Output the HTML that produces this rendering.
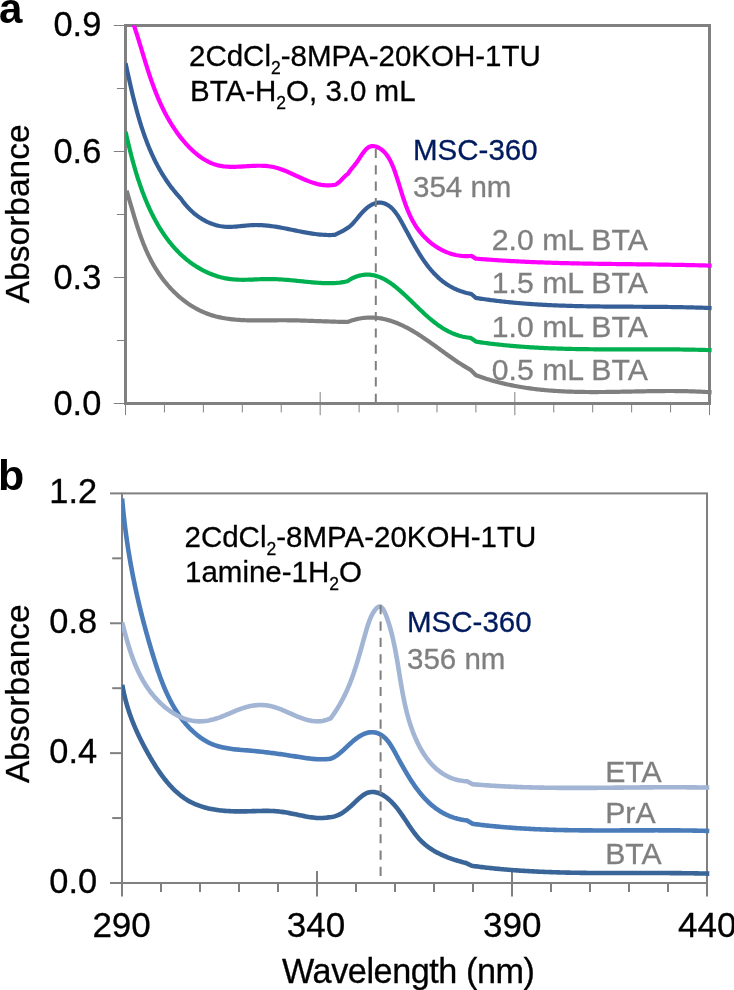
<!DOCTYPE html><html><head><meta charset="utf-8"><style>html,body{margin:0;padding:0;background:#fff;}body{width:734px;height:990px;overflow:hidden;}svg{display:block;will-change:transform;}text{font-family:"Liberation Sans",sans-serif;}</style></head><body>
<svg width="734" height="990" viewBox="0 0 734 990">
<g stroke="#808080" fill="none">
<line x1="113.8" x2="125.5" y1="25.50" y2="25.50" stroke-width="1"/>
<line x1="113.8" x2="125.5" y1="151.50" y2="151.50" stroke-width="1"/>
<line x1="113.8" x2="125.5" y1="277.50" y2="277.50" stroke-width="1"/>
<line x1="113.8" x2="125.5" y1="403.50" y2="403.50" stroke-width="1"/>
<line x1="116.9" x2="125.5" y1="88.50" y2="88.50" stroke-width="1"/>
<line x1="116.9" x2="125.5" y1="214.50" y2="214.50" stroke-width="1"/>
<line x1="116.9" x2="125.5" y1="340.50" y2="340.50" stroke-width="1"/>
<line x1="125.50" x2="125.50" y1="392" y2="415.2" stroke-width="1"/>
<line x1="164.43" x2="164.43" y1="403.5" y2="412.4" stroke-width="1"/>
<line x1="203.37" x2="203.37" y1="403.5" y2="412.4" stroke-width="1"/>
<line x1="242.30" x2="242.30" y1="403.5" y2="412.4" stroke-width="1"/>
<line x1="281.23" x2="281.23" y1="403.5" y2="412.4" stroke-width="1"/>
<line x1="320.17" x2="320.17" y1="392" y2="415.2" stroke-width="1"/>
<line x1="359.10" x2="359.10" y1="403.5" y2="412.4" stroke-width="1"/>
<line x1="398.03" x2="398.03" y1="403.5" y2="412.4" stroke-width="1"/>
<line x1="436.97" x2="436.97" y1="403.5" y2="412.4" stroke-width="1"/>
<line x1="475.90" x2="475.90" y1="403.5" y2="412.4" stroke-width="1"/>
<line x1="514.83" x2="514.83" y1="392" y2="415.2" stroke-width="1"/>
<line x1="553.77" x2="553.77" y1="403.5" y2="412.4" stroke-width="1"/>
<line x1="592.70" x2="592.70" y1="403.5" y2="412.4" stroke-width="1"/>
<line x1="631.63" x2="631.63" y1="403.5" y2="412.4" stroke-width="1"/>
<line x1="670.57" x2="670.57" y1="403.5" y2="412.4" stroke-width="1"/>
<line x1="709.50" x2="709.50" y1="392" y2="415.2" stroke-width="1"/>
<rect x="125.5" y="25.5" width="584" height="378" stroke-width="3"/>
</g>
<g stroke="#808080" fill="none" stroke-width="2">
<line x1="110" x2="122" y1="493.40" y2="493.40"/>
<line x1="110" x2="122" y1="623.27" y2="623.27"/>
<line x1="110" x2="122" y1="753.13" y2="753.13"/>
<line x1="110" x2="122" y1="883.00" y2="883.00"/>
<line x1="112.2" x2="122" y1="558.33" y2="558.33"/>
<line x1="112.2" x2="122" y1="688.20" y2="688.20"/>
<line x1="112.2" x2="122" y1="818.07" y2="818.07"/>
<line x1="122.00" x2="122.00" y1="871" y2="896.6"/>
<line x1="161.00" x2="161.00" y1="883" y2="892"/>
<line x1="200.00" x2="200.00" y1="883" y2="892"/>
<line x1="239.00" x2="239.00" y1="883" y2="892"/>
<line x1="278.00" x2="278.00" y1="883" y2="892"/>
<line x1="317.00" x2="317.00" y1="871" y2="896.6"/>
<line x1="356.00" x2="356.00" y1="883" y2="892"/>
<line x1="395.00" x2="395.00" y1="883" y2="892"/>
<line x1="434.00" x2="434.00" y1="883" y2="892"/>
<line x1="473.00" x2="473.00" y1="883" y2="892"/>
<line x1="512.00" x2="512.00" y1="871" y2="896.6"/>
<line x1="551.00" x2="551.00" y1="883" y2="892"/>
<line x1="590.00" x2="590.00" y1="883" y2="892"/>
<line x1="629.00" x2="629.00" y1="883" y2="892"/>
<line x1="668.00" x2="668.00" y1="883" y2="892"/>
<line x1="707.00" x2="707.00" y1="871" y2="896.6"/>
<rect x="122" y="493.4" width="585" height="389.6"/>
</g>
<defs><clipPath id="ca"><rect x="125.6" y="25.3" width="590" height="378"/></clipPath><clipPath id="cb"><rect x="122" y="493.4" width="592" height="389.5"/></clipPath></defs>
<g clip-path="url(#ca)">
<path d="M126.60,190.70 L127.02,192.08 L127.44,193.46 L127.86,194.85 L128.28,196.25 L128.69,197.65 L129.11,199.06 L129.52,200.48 L129.94,201.90 L130.35,203.32 L130.77,204.75 L131.19,206.19 L131.61,207.62 L132.03,209.06 L132.45,210.51 L132.88,211.96 L133.30,213.41 L133.74,214.86 L134.17,216.31 L134.61,217.77 L135.05,219.23 L135.50,220.69 L135.95,222.15 L136.41,223.61 L136.87,225.07 L137.34,226.53 L137.81,227.98 L138.29,229.44 L138.78,230.90 L139.27,232.36 L139.77,233.81 L140.28,235.26 L140.80,236.71 L141.33,238.16 L141.86,239.60 L142.40,241.04 L142.96,242.48 L143.52,243.91 L144.09,245.34 L144.68,246.76 L145.27,248.18 L145.88,249.59 L146.50,251.00 L147.13,252.40 L147.77,253.80 L148.42,255.19 L149.09,256.57 L149.77,257.94 L150.46,259.31 L151.17,260.67 L151.89,262.02 L152.62,263.36 L153.37,264.70 L154.14,266.02 L154.92,267.34 L155.71,268.64 L156.52,269.94 L157.34,271.22 L158.17,272.50 L159.02,273.76 L159.89,275.02 L160.76,276.26 L161.65,277.49 L162.56,278.71 L163.47,279.91 L164.41,281.11 L165.35,282.29 L166.31,283.45 L167.28,284.61 L168.26,285.75 L169.26,286.87 L170.27,287.98 L171.29,289.08 L172.32,290.16 L173.37,291.23 L174.43,292.28 L175.50,293.32 L176.59,294.34 L177.68,295.34 L178.79,296.33 L179.91,297.30 L181.05,298.25 L182.19,299.19 L183.35,300.10 L184.52,301.00 L185.70,301.88 L186.89,302.74 L188.09,303.59 L189.30,304.41 L190.53,305.22 L191.77,306.00 L193.02,306.77 L194.27,307.51 L195.54,308.23 L196.82,308.93 L198.12,309.62 L199.42,310.28 L200.73,310.91 L202.05,311.53 L203.39,312.12 L204.73,312.69 L206.09,313.24 L207.45,313.76 L208.82,314.26 L210.21,314.74 L211.60,315.19 L213.01,315.62 L214.42,316.02 L215.84,316.41 L217.27,316.77 L218.71,317.11 L220.16,317.42 L221.62,317.72 L223.08,318.00 L224.55,318.26 L226.03,318.50 L227.51,318.72 L229.00,318.93 L230.50,319.12 L232.00,319.30 L233.51,319.45 L235.02,319.60 L236.54,319.73 L238.06,319.85 L239.59,319.95 L241.12,320.04 L242.66,320.13 L244.20,320.20 L245.74,320.26 L247.28,320.31 L248.83,320.35 L250.38,320.38 L251.93,320.41 L253.48,320.43 L255.04,320.44 L256.59,320.44 L258.15,320.44 L259.71,320.44 L261.26,320.43 L262.82,320.42 L264.38,320.41 L265.93,320.39 L267.49,320.38 L269.04,320.36 L270.60,320.34 L272.15,320.32 L273.70,320.30 L275.24,320.29 L276.78,320.28 L278.33,320.27 L279.86,320.26 L281.40,320.26 L282.93,320.26 L284.45,320.27 L285.98,320.27 L287.50,320.29 L289.01,320.31 L290.53,320.33 L292.04,320.35 L293.55,320.38 L295.05,320.41 L296.56,320.44 L298.06,320.47 L299.56,320.51 L301.06,320.55 L302.55,320.59 L304.05,320.64 L305.54,320.68 L307.04,320.73 L308.53,320.78 L310.02,320.83 L311.51,320.88 L313.00,320.93 L314.48,320.98 L315.97,321.03 L317.46,321.09 L318.95,321.14 L320.44,321.20 L321.92,321.25 L323.41,321.30 L324.90,321.36 L326.39,321.41 L327.88,321.46 L329.37,321.51 L330.87,321.56 L332.36,321.61 L333.85,321.66 L335.35,321.71 L336.85,321.75 L338.35,321.79 L339.85,321.83 L341.36,321.87 L342.86,321.91 L344.37,321.94 L345.88,321.97 L347.40,322.00 L349.00,321.41 L350.59,320.86 L352.17,320.35 L353.74,319.90 L355.31,319.48 L356.86,319.11 L358.41,318.78 L359.95,318.49 L361.48,318.24 L363.00,318.04 L364.52,317.87 L366.03,317.74 L367.53,317.65 L369.02,317.60 L370.50,317.58 L371.98,317.60 L373.45,317.65 L374.92,317.74 L376.37,317.87 L377.82,318.02 L379.26,318.21 L380.70,318.43 L382.13,318.69 L383.55,318.97 L384.97,319.28 L386.38,319.62 L387.78,319.99 L389.18,320.39 L390.58,320.81 L391.96,321.26 L393.35,321.73 L394.72,322.23 L396.09,322.76 L397.46,323.30 L398.82,323.87 L400.17,324.46 L401.53,325.07 L402.87,325.71 L404.21,326.36 L405.55,327.03 L406.88,327.72 L408.21,328.43 L409.53,329.15 L410.85,329.89 L412.17,330.64 L413.48,331.41 L414.79,332.20 L416.10,333.00 L417.40,333.81 L418.70,334.63 L419.99,335.46 L421.28,336.30 L422.57,337.16 L423.86,338.02 L425.14,338.89 L426.42,339.77 L427.70,340.65 L428.98,341.54 L430.25,342.44 L431.52,343.34 L432.79,344.25 L434.06,345.16 L435.32,346.07 L436.59,346.98 L437.85,347.90 L439.11,348.81 L440.37,349.73 L441.63,350.64 L442.89,351.56 L444.14,352.47 L445.40,353.37 L446.65,354.28 L447.91,355.18 L449.16,356.07 L450.41,356.96 L451.66,357.84 L452.92,358.72 L454.17,359.58 L455.42,360.44 L456.67,361.29 L457.93,362.13 L459.18,362.96 L460.43,363.77 L461.69,364.58 L462.94,365.37 L464.20,366.14 L465.46,366.91 L466.72,367.65 L467.97,368.39 L469.24,369.10 L470.50,369.80 L476.00,375.20 L477.43,375.73 L478.85,376.25 L480.29,376.76 L481.72,377.26 L483.15,377.74 L484.59,378.22 L486.03,378.68 L487.47,379.14 L488.91,379.58 L490.35,380.02 L491.80,380.44 L493.25,380.86 L494.70,381.26 L496.15,381.66 L497.60,382.05 L499.05,382.42 L500.51,382.79 L501.96,383.15 L503.42,383.50 L504.88,383.84 L506.34,384.18 L507.81,384.50 L509.27,384.81 L510.74,385.12 L512.20,385.42 L513.67,385.71 L515.14,385.99 L516.61,386.27 L518.09,386.53 L519.56,386.79 L521.04,387.04 L522.51,387.28 L523.99,387.52 L525.47,387.75 L526.95,387.97 L528.43,388.18 L529.91,388.39 L531.40,388.59 L532.88,388.78 L534.37,388.96 L535.86,389.14 L537.35,389.32 L538.84,389.48 L540.33,389.64 L541.82,389.79 L543.31,389.94 L544.80,390.08 L546.30,390.22 L547.80,390.35 L549.29,390.47 L550.79,390.59 L552.29,390.70 L553.79,390.81 L555.29,390.91 L556.79,391.01 L558.29,391.10 L559.79,391.18 L561.30,391.26 L562.80,391.34 L564.31,391.41 L565.81,391.48 L567.32,391.54 L568.83,391.60 L570.34,391.66 L571.84,391.71 L573.35,391.75 L574.86,391.80 L576.37,391.83 L577.89,391.87 L579.40,391.90 L580.91,391.93 L582.42,391.95 L583.94,391.97 L585.45,391.99 L586.96,392.00 L588.48,392.02 L589.99,392.03 L591.51,392.03 L593.02,392.03 L594.54,392.04 L596.06,392.03 L597.57,392.03 L599.09,392.02 L600.61,392.01 L602.13,392.00 L603.65,391.99 L605.16,391.98 L606.68,391.96 L608.20,391.94 L609.72,391.92 L611.24,391.90 L612.76,391.88 L614.28,391.86 L615.80,391.83 L617.32,391.81 L618.84,391.78 L620.36,391.75 L621.88,391.72 L623.40,391.70 L624.92,391.67 L626.44,391.64 L627.96,391.61 L629.48,391.58 L631.00,391.54 L632.52,391.51 L634.04,391.48 L635.56,391.45 L637.08,391.42 L638.59,391.39 L640.11,391.36 L641.63,391.33 L643.15,391.30 L644.67,391.28 L646.19,391.25 L647.71,391.22 L649.22,391.20 L650.74,391.18 L652.26,391.15 L653.77,391.13 L655.29,391.11 L656.81,391.09 L658.32,391.08 L659.84,391.06 L661.35,391.05 L662.87,391.04 L664.38,391.03 L665.89,391.02 L667.41,391.02 L668.92,391.02 L670.43,391.02 L671.94,391.02 L673.45,391.02 L674.96,391.03 L676.47,391.04 L677.98,391.06 L679.49,391.07 L681.00,391.09 L682.51,391.12 L684.01,391.14 L685.52,391.17 L687.02,391.21 L688.53,391.24 L690.03,391.29 L691.53,391.33 L693.04,391.38 L694.54,391.43 L696.04,391.49 L697.54,391.55 L699.04,391.62 L700.53,391.69 L702.03,391.76 L703.53,391.84 L705.02,391.92 L706.51,392.01 L708.01,392.11 L709.50,392.20 L711.60,392.33" fill="none" stroke="#7F7F7F" stroke-width="4.2" stroke-linejoin="round" stroke-linecap="butt"/>
<path d="M125.60,131.80 L125.91,133.18 L126.22,134.57 L126.54,135.96 L126.86,137.36 L127.18,138.76 L127.51,140.17 L127.84,141.58 L128.18,143.00 L128.52,144.43 L128.86,145.86 L129.21,147.29 L129.57,148.73 L129.92,150.17 L130.29,151.62 L130.65,153.07 L131.03,154.52 L131.40,155.98 L131.79,157.44 L132.17,158.90 L132.57,160.36 L132.97,161.83 L133.37,163.29 L133.78,164.76 L134.20,166.23 L134.62,167.70 L135.05,169.18 L135.48,170.65 L135.92,172.12 L136.37,173.60 L136.83,175.07 L137.29,176.54 L137.75,178.01 L138.23,179.49 L138.71,180.96 L139.20,182.42 L139.69,183.89 L140.20,185.36 L140.71,186.82 L141.23,188.28 L141.75,189.74 L142.29,191.20 L142.83,192.65 L143.38,194.10 L143.94,195.55 L144.51,196.99 L145.08,198.43 L145.67,199.86 L146.26,201.29 L146.86,202.72 L147.47,204.14 L148.09,205.56 L148.72,206.97 L149.36,208.37 L150.01,209.77 L150.66,211.16 L151.33,212.55 L152.01,213.93 L152.69,215.30 L153.39,216.67 L154.09,218.02 L154.81,219.37 L155.54,220.72 L156.27,222.05 L157.02,223.38 L157.78,224.70 L158.55,226.01 L159.33,227.31 L160.12,228.60 L160.92,229.88 L161.74,231.15 L162.56,232.41 L163.40,233.67 L164.25,234.91 L165.11,236.14 L165.98,237.36 L166.86,238.57 L167.76,239.76 L168.67,240.95 L169.59,242.12 L170.52,243.28 L171.47,244.43 L172.42,245.57 L173.40,246.69 L174.38,247.80 L175.38,248.90 L176.39,249.99 L177.41,251.06 L178.45,252.11 L179.50,253.15 L180.56,254.18 L181.64,255.19 L182.73,256.19 L183.83,257.17 L184.95,258.14 L186.09,259.09 L187.23,260.02 L188.40,260.94 L189.57,261.85 L190.76,262.73 L191.97,263.60 L193.19,264.45 L194.42,265.28 L195.67,266.10 L196.93,266.90 L198.21,267.67 L199.49,268.43 L200.79,269.16 L202.10,269.88 L203.43,270.57 L204.76,271.25 L206.11,271.90 L207.46,272.52 L208.83,273.13 L210.20,273.71 L211.59,274.27 L212.98,274.80 L214.39,275.31 L215.80,275.79 L217.22,276.24 L218.65,276.67 L220.09,277.08 L221.53,277.45 L222.99,277.80 L224.44,278.12 L225.91,278.41 L227.38,278.67 L228.86,278.90 L230.34,279.10 L231.83,279.27 L233.32,279.41 L234.82,279.53 L236.32,279.62 L237.82,279.69 L239.33,279.74 L240.84,279.77 L242.36,279.78 L243.88,279.78 L245.40,279.76 L246.92,279.73 L248.45,279.69 L249.98,279.64 L251.51,279.59 L253.04,279.53 L254.57,279.46 L256.10,279.40 L257.63,279.33 L259.16,279.27 L260.69,279.21 L262.22,279.16 L263.76,279.11 L265.28,279.08 L266.81,279.05 L268.34,279.04 L269.86,279.04 L271.39,279.05 L272.91,279.08 L274.42,279.12 L275.94,279.18 L277.46,279.24 L278.97,279.32 L280.48,279.40 L281.99,279.50 L283.50,279.61 L285.01,279.72 L286.51,279.84 L288.01,279.96 L289.52,280.10 L291.02,280.23 L292.52,280.37 L294.01,280.52 L295.51,280.67 L297.01,280.82 L298.50,280.97 L299.99,281.12 L301.49,281.28 L302.98,281.43 L304.47,281.58 L305.96,281.73 L307.44,281.87 L308.93,282.02 L310.42,282.16 L311.90,282.29 L313.39,282.42 L314.87,282.54 L316.36,282.65 L317.84,282.76 L319.32,282.86 L320.80,282.95 L322.28,283.03 L323.77,283.10 L325.25,283.15 L326.73,283.19 L328.20,283.21 L329.68,283.21 L331.16,283.19 L332.64,283.16 L334.12,283.09 L335.60,283.00 L337.07,282.89 L338.55,282.75 L340.03,282.58 L341.50,282.37 L342.98,282.13 L344.45,281.86 L345.93,281.55 L347.40,281.20 L348.94,280.20 L350.48,279.28 L352.00,278.46 L353.52,277.72 L355.03,277.07 L356.53,276.49 L358.02,276.00 L359.50,275.58 L360.97,275.25 L362.43,274.98 L363.88,274.79 L365.31,274.67 L366.74,274.62 L368.16,274.63 L369.57,274.71 L370.96,274.85 L372.34,275.05 L373.71,275.30 L375.07,275.62 L376.42,275.99 L377.75,276.41 L379.07,276.88 L380.38,277.40 L381.68,277.97 L382.97,278.58 L384.24,279.23 L385.51,279.92 L386.76,280.65 L388.00,281.42 L389.24,282.22 L390.46,283.05 L391.68,283.91 L392.88,284.80 L394.08,285.71 L395.27,286.64 L396.45,287.60 L397.62,288.57 L398.79,289.56 L399.94,290.57 L401.10,291.59 L402.24,292.62 L403.38,293.65 L404.51,294.70 L405.64,295.75 L406.76,296.82 L407.88,297.88 L409.00,298.95 L410.12,300.03 L411.23,301.11 L412.34,302.19 L413.45,303.27 L414.55,304.35 L415.66,305.43 L416.77,306.51 L417.88,307.58 L418.99,308.66 L420.10,309.72 L421.22,310.79 L422.34,311.84 L423.46,312.89 L424.59,313.93 L425.72,314.96 L426.86,315.98 L428.00,317.00 L429.15,317.99 L430.30,318.98 L431.47,319.95 L432.64,320.91 L433.82,321.85 L435.00,322.77 L436.20,323.68 L437.41,324.57 L438.63,325.44 L439.86,326.28 L441.10,327.11 L442.35,327.92 L443.62,328.70 L444.90,329.45 L446.19,330.19 L447.50,330.89 L448.82,331.57 L450.16,332.22 L451.51,332.85 L452.88,333.44 L454.27,334.00 L455.67,334.53 L457.10,335.03 L458.54,335.50 L460.00,335.93 L461.48,336.32 L462.98,336.68 L464.50,337.00 L466.04,337.29 L467.61,337.53 L469.19,337.74 L470.80,337.90 L476.30,341.70 L477.80,341.93 L479.30,342.14 L480.80,342.36 L482.30,342.57 L483.81,342.77 L485.31,342.97 L486.81,343.17 L488.31,343.36 L489.82,343.55 L491.32,343.73 L492.83,343.92 L494.33,344.09 L495.84,344.27 L497.34,344.44 L498.85,344.60 L500.35,344.76 L501.86,344.92 L503.36,345.08 L504.87,345.23 L506.38,345.37 L507.89,345.52 L509.39,345.66 L510.90,345.80 L512.41,345.93 L513.92,346.06 L515.43,346.19 L516.94,346.31 L518.44,346.43 L519.95,346.55 L521.46,346.66 L522.97,346.77 L524.48,346.88 L525.99,346.99 L527.51,347.09 L529.02,347.19 L530.53,347.28 L532.04,347.38 L533.55,347.47 L535.06,347.56 L536.58,347.64 L538.09,347.72 L539.60,347.80 L541.11,347.88 L542.63,347.96 L544.14,348.03 L545.65,348.10 L547.17,348.17 L548.68,348.23 L550.20,348.29 L551.71,348.35 L553.22,348.41 L554.74,348.47 L556.25,348.52 L557.77,348.57 L559.28,348.62 L560.80,348.67 L562.31,348.72 L563.83,348.76 L565.35,348.80 L566.86,348.84 L568.38,348.88 L569.89,348.91 L571.41,348.95 L572.93,348.98 L574.44,349.01 L575.96,349.04 L577.48,349.07 L579.00,349.09 L580.51,349.12 L582.03,349.14 L583.55,349.16 L585.06,349.18 L586.58,349.20 L588.10,349.22 L589.62,349.24 L591.14,349.25 L592.65,349.27 L594.17,349.28 L595.69,349.29 L597.21,349.30 L598.73,349.31 L600.24,349.32 L601.76,349.33 L603.28,349.33 L604.80,349.34 L606.32,349.35 L607.84,349.35 L609.36,349.35 L610.87,349.36 L612.39,349.36 L613.91,349.36 L615.43,349.36 L616.95,349.36 L618.47,349.36 L619.99,349.36 L621.51,349.36 L623.03,349.36 L624.54,349.36 L626.06,349.36 L627.58,349.36 L629.10,349.36 L630.62,349.35 L632.14,349.35 L633.66,349.35 L635.18,349.35 L636.70,349.35 L638.21,349.34 L639.73,349.34 L641.25,349.34 L642.77,349.34 L644.29,349.34 L645.81,349.34 L647.33,349.34 L648.84,349.34 L650.36,349.34 L651.88,349.34 L653.40,349.34 L654.92,349.34 L656.44,349.34 L657.95,349.34 L659.47,349.35 L660.99,349.35 L662.51,349.36 L664.03,349.36 L665.54,349.37 L667.06,349.38 L668.58,349.38 L670.10,349.39 L671.61,349.40 L673.13,349.41 L674.65,349.43 L676.17,349.44 L677.68,349.46 L679.20,349.47 L680.72,349.49 L682.23,349.51 L683.75,349.53 L685.26,349.55 L686.78,349.57 L688.30,349.59 L689.81,349.62 L691.33,349.65 L692.84,349.67 L694.36,349.70 L695.87,349.74 L697.39,349.77 L698.90,349.80 L700.42,349.84 L701.93,349.88 L703.45,349.92 L704.96,349.96 L706.47,350.01 L707.99,350.05 L709.50,350.10 L711.60,350.16" fill="none" stroke="#00B050" stroke-width="4.2" stroke-linejoin="round" stroke-linecap="butt"/>
<path d="M125.60,63.30 L125.92,64.76 L126.24,66.23 L126.56,67.69 L126.88,69.16 L127.20,70.64 L127.52,72.11 L127.85,73.59 L128.17,75.06 L128.50,76.54 L128.83,78.03 L129.16,79.51 L129.49,80.99 L129.82,82.48 L130.16,83.97 L130.50,85.46 L130.84,86.95 L131.18,88.44 L131.53,89.93 L131.88,91.42 L132.23,92.91 L132.59,94.41 L132.95,95.90 L133.31,97.39 L133.68,98.88 L134.05,100.37 L134.43,101.87 L134.81,103.36 L135.19,104.85 L135.58,106.34 L135.97,107.83 L136.37,109.32 L136.77,110.80 L137.18,112.29 L137.59,113.77 L138.01,115.25 L138.44,116.74 L138.87,118.21 L139.30,119.69 L139.74,121.17 L140.19,122.64 L140.65,124.11 L141.11,125.58 L141.57,127.04 L142.05,128.50 L142.53,129.96 L143.02,131.42 L143.51,132.87 L144.02,134.32 L144.53,135.77 L145.05,137.21 L145.57,138.65 L146.11,140.09 L146.65,141.52 L147.20,142.95 L147.76,144.37 L148.33,145.79 L148.90,147.21 L149.49,148.62 L150.08,150.02 L150.69,151.42 L151.30,152.82 L151.92,154.21 L152.55,155.59 L153.20,156.97 L153.85,158.35 L154.51,159.71 L155.18,161.08 L155.87,162.43 L156.56,163.78 L157.26,165.13 L157.98,166.47 L158.71,167.80 L159.44,169.12 L160.19,170.44 L160.95,171.75 L161.73,173.06 L162.51,174.35 L163.30,175.64 L164.11,176.93 L164.93,178.20 L165.77,179.47 L166.61,180.73 L167.47,181.98 L168.34,183.23 L169.22,184.46 L170.12,185.69 L171.03,186.91 L171.95,188.12 L172.89,189.32 L173.84,190.51 L174.81,191.70 L175.79,192.87 L176.78,194.04 L177.79,195.19 L178.81,196.34 L179.85,197.47 L180.90,198.60 L181.79,199.88 L182.70,201.15 L183.64,202.39 L184.61,203.62 L185.60,204.82 L186.61,206.00 L187.65,207.15 L188.72,208.29 L189.81,209.39 L190.92,210.47 L192.05,211.53 L193.20,212.56 L194.37,213.55 L195.57,214.52 L196.78,215.46 L198.01,216.37 L199.26,217.25 L200.53,218.09 L201.81,218.90 L203.11,219.68 L204.43,220.42 L205.76,221.13 L207.11,221.80 L208.47,222.43 L209.84,223.02 L211.23,223.58 L212.63,224.09 L214.04,224.56 L215.47,225.00 L216.90,225.39 L218.34,225.73 L219.80,226.03 L221.26,226.29 L222.73,226.50 L224.21,226.66 L225.69,226.78 L227.18,226.85 L228.68,226.88 L230.18,226.87 L231.69,226.83 L233.20,226.76 L234.71,226.66 L236.23,226.54 L237.75,226.41 L239.28,226.26 L240.80,226.11 L242.33,225.95 L243.85,225.79 L245.38,225.64 L246.90,225.49 L248.43,225.36 L249.95,225.24 L251.47,225.15 L252.98,225.08 L254.50,225.04 L256.01,225.02 L257.51,225.03 L259.02,225.06 L260.52,225.11 L262.02,225.19 L263.52,225.29 L265.01,225.40 L266.50,225.54 L268.00,225.69 L269.48,225.86 L270.97,226.05 L272.46,226.25 L273.94,226.46 L275.42,226.69 L276.90,226.92 L278.38,227.17 L279.86,227.43 L281.34,227.70 L282.81,227.98 L284.29,228.26 L285.76,228.55 L287.24,228.84 L288.71,229.14 L290.18,229.44 L291.66,229.74 L293.13,230.04 L294.60,230.35 L296.07,230.65 L297.55,230.95 L299.02,231.25 L300.50,231.54 L301.97,231.83 L303.45,232.11 L304.92,232.39 L306.40,232.65 L307.88,232.91 L309.36,233.16 L310.84,233.40 L312.32,233.62 L313.80,233.83 L315.29,234.03 L316.78,234.22 L318.27,234.38 L319.76,234.54 L321.25,234.67 L322.74,234.78 L324.24,234.88 L325.74,234.95 L327.24,235.00 L328.75,235.03 L330.26,235.04 L331.77,235.02 L333.28,234.97 L334.80,234.90 L342.40,231.20 L348.50,227.40 L349.53,226.62 L350.55,225.74 L351.57,224.77 L352.59,223.73 L353.61,222.62 L354.63,221.45 L355.66,220.24 L356.70,218.99 L357.75,217.73 L358.81,216.45 L359.88,215.17 L360.97,213.91 L362.08,212.67 L363.21,211.46 L364.36,210.29 L365.53,209.18 L366.73,208.14 L367.95,207.17 L369.18,206.27 L370.44,205.45 L371.70,204.73 L372.98,204.10 L374.26,203.56 L375.55,203.14 L376.85,202.82 L378.14,202.63 L379.44,202.56 L380.73,202.62 L382.01,202.79 L383.27,203.09 L384.52,203.49 L385.75,204.00 L386.96,204.60 L388.13,205.29 L389.27,206.07 L390.38,206.92 L391.44,207.85 L392.47,208.85 L393.46,209.90 L394.42,211.01 L395.35,212.18 L396.25,213.39 L397.12,214.64 L397.98,215.93 L398.81,217.26 L399.63,218.60 L400.43,219.97 L401.22,221.36 L402.00,222.76 L402.77,224.16 L403.54,225.57 L404.31,226.97 L405.07,228.38 L405.83,229.78 L406.59,231.19 L407.35,232.59 L408.10,233.99 L408.86,235.38 L409.61,236.77 L410.37,238.16 L411.13,239.54 L411.89,240.92 L412.65,242.29 L413.41,243.66 L414.18,245.02 L414.95,246.37 L415.73,247.71 L416.51,249.05 L417.30,250.38 L418.09,251.69 L418.89,253.00 L419.69,254.30 L420.51,255.59 L421.33,256.86 L422.16,258.13 L422.99,259.38 L423.84,260.62 L424.70,261.85 L425.57,263.06 L426.45,264.26 L427.34,265.44 L428.24,266.61 L429.15,267.77 L430.08,268.90 L431.02,270.02 L431.98,271.13 L432.95,272.21 L433.93,273.28 L434.94,274.33 L435.95,275.35 L436.99,276.36 L438.04,277.35 L439.11,278.32 L440.19,279.27 L441.30,280.19 L442.42,281.09 L443.57,281.97 L444.73,282.83 L445.92,283.66 L447.13,284.47 L448.36,285.25 L449.61,286.01 L450.88,286.74 L452.18,287.45 L453.50,288.13 L454.84,288.78 L456.21,289.40 L457.61,290.00 L459.03,290.57 L460.48,291.10 L461.96,291.61 L463.46,292.09 L464.99,292.54 L466.55,292.95 L468.14,293.33 L469.75,293.68 L471.40,294.00 L475.80,297.90 L477.29,298.14 L478.78,298.37 L480.28,298.60 L481.77,298.82 L483.26,299.04 L484.76,299.25 L486.25,299.46 L487.74,299.67 L489.24,299.87 L490.73,300.07 L492.23,300.26 L493.73,300.45 L495.22,300.64 L496.72,300.82 L498.22,301.00 L499.71,301.17 L501.21,301.35 L502.71,301.51 L504.21,301.68 L505.71,301.84 L507.21,301.99 L508.71,302.15 L510.21,302.30 L511.71,302.44 L513.21,302.58 L514.71,302.72 L516.21,302.86 L517.71,302.99 L519.22,303.12 L520.72,303.25 L522.22,303.37 L523.72,303.49 L525.23,303.61 L526.73,303.72 L528.24,303.83 L529.74,303.94 L531.24,304.05 L532.75,304.15 L534.25,304.25 L535.76,304.35 L537.26,304.44 L538.77,304.53 L540.28,304.62 L541.78,304.71 L543.29,304.79 L544.80,304.87 L546.30,304.95 L547.81,305.03 L549.32,305.10 L550.83,305.17 L552.33,305.24 L553.84,305.31 L555.35,305.37 L556.86,305.43 L558.37,305.49 L559.88,305.55 L561.39,305.61 L562.90,305.66 L564.41,305.72 L565.92,305.77 L567.43,305.81 L568.94,305.86 L570.45,305.91 L571.96,305.95 L573.47,305.99 L574.98,306.03 L576.49,306.07 L578.00,306.11 L579.51,306.14 L581.02,306.17 L582.53,306.21 L584.04,306.24 L585.56,306.27 L587.07,306.29 L588.58,306.32 L590.09,306.35 L591.60,306.37 L593.12,306.39 L594.63,306.42 L596.14,306.44 L597.65,306.46 L599.17,306.47 L600.68,306.49 L602.19,306.51 L603.70,306.53 L605.22,306.54 L606.73,306.56 L608.24,306.57 L609.76,306.58 L611.27,306.59 L612.78,306.61 L614.30,306.62 L615.81,306.63 L617.32,306.64 L618.83,306.65 L620.35,306.66 L621.86,306.67 L623.37,306.67 L624.89,306.68 L626.40,306.69 L627.91,306.70 L629.43,306.71 L630.94,306.71 L632.45,306.72 L633.97,306.73 L635.48,306.74 L636.99,306.74 L638.51,306.75 L640.02,306.76 L641.53,306.77 L643.05,306.78 L644.56,306.79 L646.07,306.79 L647.58,306.80 L649.10,306.81 L650.61,306.82 L652.12,306.83 L653.63,306.84 L655.15,306.86 L656.66,306.87 L658.17,306.88 L659.68,306.89 L661.20,306.91 L662.71,306.92 L664.22,306.94 L665.73,306.96 L667.24,306.97 L668.75,306.99 L670.27,307.01 L671.78,307.03 L673.29,307.05 L674.80,307.08 L676.31,307.10 L677.82,307.13 L679.33,307.15 L680.84,307.18 L682.35,307.21 L683.86,307.24 L685.37,307.27 L686.88,307.30 L688.39,307.34 L689.90,307.37 L691.41,307.41 L692.92,307.45 L694.43,307.49 L695.93,307.53 L697.44,307.58 L698.95,307.63 L700.46,307.67 L701.97,307.72 L703.47,307.77 L704.98,307.83 L706.49,307.88 L707.99,307.94 L709.50,308.00 L711.60,308.08" fill="none" stroke="#365F97" stroke-width="4.2" stroke-linejoin="round" stroke-linecap="butt"/>
<path d="M132.10,20.00 L132.60,21.44 L133.10,22.88 L133.59,24.32 L134.07,25.77 L134.55,27.21 L135.03,28.65 L135.50,30.10 L135.96,31.54 L136.43,32.99 L136.88,34.43 L137.34,35.88 L137.79,37.33 L138.24,38.77 L138.69,40.22 L139.14,41.67 L139.58,43.11 L140.02,44.56 L140.46,46.00 L140.90,47.45 L141.34,48.90 L141.78,50.34 L142.21,51.78 L142.65,53.23 L143.09,54.67 L143.53,56.11 L143.97,57.55 L144.41,58.99 L144.85,60.43 L145.29,61.87 L145.74,63.31 L146.19,64.75 L146.64,66.18 L147.09,67.61 L147.54,69.05 L148.00,70.48 L148.47,71.91 L148.93,73.33 L149.41,74.76 L149.88,76.18 L150.36,77.61 L150.85,79.03 L151.34,80.44 L151.83,81.86 L152.34,83.27 L152.85,84.69 L153.36,86.09 L153.88,87.50 L154.41,88.91 L154.95,90.31 L155.49,91.71 L156.04,93.11 L156.60,94.50 L157.17,95.89 L157.74,97.28 L158.33,98.67 L158.92,100.05 L159.53,101.43 L160.14,102.80 L160.77,104.18 L161.40,105.55 L162.04,106.91 L162.70,108.28 L163.37,109.64 L164.04,110.99 L164.73,112.34 L165.43,113.69 L166.15,115.03 L166.87,116.37 L167.61,117.70 L168.36,119.02 L169.12,120.34 L169.89,121.66 L170.68,122.97 L171.48,124.27 L172.29,125.56 L173.12,126.85 L173.96,128.13 L174.81,129.41 L175.68,130.68 L176.57,131.93 L177.46,133.19 L178.38,134.43 L179.30,135.66 L180.24,136.89 L181.20,138.11 L182.17,139.31 L183.16,140.51 L184.17,141.70 L185.18,142.88 L186.22,144.04 L187.27,145.19 L188.33,146.32 L189.41,147.44 L190.51,148.53 L191.62,149.61 L192.74,150.67 L193.88,151.70 L195.03,152.71 L196.20,153.70 L197.38,154.66 L198.57,155.59 L199.78,156.49 L201.01,157.36 L202.24,158.20 L203.50,159.01 L204.76,159.78 L206.04,160.52 L207.33,161.22 L208.63,161.89 L209.95,162.51 L211.28,163.09 L212.62,163.63 L213.98,164.13 L215.35,164.58 L216.73,164.99 L218.12,165.35 L219.53,165.67 L220.94,165.94 L222.37,166.17 L223.81,166.36 L225.26,166.51 L226.71,166.63 L228.18,166.72 L229.65,166.79 L231.13,166.82 L232.62,166.83 L234.11,166.82 L235.61,166.79 L237.11,166.75 L238.62,166.69 L240.13,166.62 L241.64,166.54 L243.16,166.45 L244.68,166.36 L246.20,166.26 L247.72,166.17 L249.24,166.08 L250.76,165.99 L252.28,165.92 L253.79,165.85 L255.31,165.79 L256.82,165.75 L258.33,165.73 L259.84,165.73 L261.34,165.75 L262.83,165.79 L264.32,165.86 L265.81,165.96 L267.28,166.09 L268.75,166.26 L270.21,166.47 L271.67,166.71 L273.11,166.99 L274.54,167.32 L275.97,167.68 L277.39,168.08 L278.80,168.51 L280.20,168.97 L281.60,169.46 L282.99,169.97 L284.38,170.51 L285.76,171.07 L287.14,171.65 L288.51,172.24 L289.88,172.85 L291.25,173.46 L292.62,174.09 L293.98,174.72 L295.35,175.36 L296.71,175.99 L298.08,176.63 L299.44,177.26 L300.81,177.88 L302.18,178.50 L303.55,179.11 L304.92,179.70 L306.30,180.28 L307.68,180.83 L309.07,181.37 L310.46,181.88 L311.85,182.37 L313.25,182.83 L314.66,183.26 L316.08,183.66 L317.50,184.02 L318.94,184.34 L320.38,184.63 L321.83,184.87 L323.29,185.06 L324.76,185.21 L326.24,185.31 L327.74,185.35 L329.24,185.34 L330.76,185.27 L332.29,185.15 L333.84,184.96 L335.40,184.70 L336.18,184.27 L336.93,183.81 L337.65,183.31 L338.34,182.78 L339.00,182.22 L339.64,181.64 L340.27,181.04 L340.89,180.42 L341.50,179.79 L342.10,179.16 L342.70,178.53 L343.30,177.90 L343.91,177.27 L344.53,176.66 L345.16,176.06 L345.81,175.48 L346.48,174.93 L347.18,174.40 L347.90,173.90 L348.80,172.53 L349.69,171.27 L350.58,170.08 L351.46,168.95 L352.33,167.86 L353.21,166.79 L354.09,165.72 L354.97,164.63 L355.86,163.50 L356.77,162.31 L357.68,161.04 L358.61,159.67 L359.56,158.22 L360.52,156.72 L361.51,155.20 L362.53,153.69 L363.57,152.23 L364.64,150.86 L365.75,149.59 L366.89,148.48 L368.07,147.55 L369.28,146.83 L370.54,146.35 L371.83,146.11 L373.14,146.08 L374.46,146.23 L375.76,146.54 L377.05,147.00 L378.31,147.57 L379.52,148.23 L380.68,148.97 L381.79,149.78 L382.84,150.66 L383.86,151.61 L384.82,152.62 L385.75,153.69 L386.63,154.81 L387.47,155.99 L388.28,157.21 L389.05,158.47 L389.79,159.78 L390.50,161.13 L391.17,162.51 L391.83,163.92 L392.45,165.35 L393.05,166.81 L393.64,168.29 L394.20,169.78 L394.74,171.29 L395.28,172.81 L395.79,174.33 L396.30,175.85 L396.80,177.38 L397.29,178.89 L397.77,180.41 L398.25,181.92 L398.72,183.43 L399.18,184.94 L399.65,186.44 L400.11,187.94 L400.57,189.43 L401.03,190.92 L401.50,192.40 L401.96,193.88 L402.43,195.35 L402.90,196.82 L403.38,198.27 L403.86,199.72 L404.35,201.17 L404.84,202.60 L405.35,204.03 L405.86,205.45 L406.39,206.86 L406.93,208.26 L407.48,209.65 L408.05,211.04 L408.63,212.41 L409.22,213.77 L409.83,215.13 L410.46,216.47 L411.11,217.80 L411.78,219.12 L412.47,220.42 L413.18,221.72 L413.92,223.00 L414.68,224.27 L415.46,225.52 L416.27,226.77 L417.10,228.00 L417.96,229.21 L418.85,230.41 L419.77,231.59 L420.71,232.76 L421.68,233.91 L422.67,235.04 L423.68,236.15 L424.73,237.24 L425.79,238.31 L426.88,239.36 L427.99,240.38 L429.12,241.38 L430.27,242.35 L431.45,243.30 L432.65,244.22 L433.87,245.12 L435.10,245.99 L436.36,246.82 L437.64,247.63 L438.94,248.41 L440.25,249.15 L441.58,249.86 L442.94,250.54 L444.30,251.19 L445.69,251.80 L447.09,252.37 L448.51,252.90 L449.94,253.40 L451.39,253.86 L452.85,254.28 L454.33,254.66 L455.82,255.00 L457.33,255.29 L458.84,255.54 L460.37,255.75 L461.92,255.91 L463.47,256.03 L465.04,256.10 L466.61,256.12 L468.20,256.10 L469.79,256.02 L471.40,255.90 L475.80,258.60 L477.31,258.73 L478.83,258.85 L480.34,258.98 L481.85,259.10 L483.37,259.22 L484.88,259.33 L486.39,259.45 L487.91,259.56 L489.42,259.67 L490.94,259.78 L492.45,259.89 L493.97,259.99 L495.48,260.09 L496.99,260.20 L498.51,260.30 L500.02,260.39 L501.54,260.49 L503.05,260.58 L504.57,260.67 L506.08,260.77 L507.60,260.85 L509.12,260.94 L510.63,261.03 L512.15,261.11 L513.66,261.19 L515.18,261.27 L516.69,261.35 L518.21,261.43 L519.73,261.50 L521.24,261.58 L522.76,261.65 L524.27,261.72 L525.79,261.79 L527.31,261.86 L528.82,261.92 L530.34,261.99 L531.86,262.05 L533.37,262.12 L534.89,262.18 L536.41,262.24 L537.92,262.30 L539.44,262.35 L540.96,262.41 L542.47,262.46 L543.99,262.52 L545.51,262.57 L547.03,262.62 L548.54,262.67 L550.06,262.72 L551.58,262.77 L553.10,262.81 L554.61,262.86 L556.13,262.90 L557.65,262.95 L559.17,262.99 L560.68,263.03 L562.20,263.07 L563.72,263.11 L565.24,263.15 L566.76,263.18 L568.27,263.22 L569.79,263.26 L571.31,263.29 L572.83,263.33 L574.35,263.36 L575.87,263.39 L577.38,263.42 L578.90,263.45 L580.42,263.48 L581.94,263.51 L583.46,263.54 L584.98,263.57 L586.49,263.60 L588.01,263.62 L589.53,263.65 L591.05,263.68 L592.57,263.70 L594.09,263.73 L595.61,263.75 L597.13,263.77 L598.64,263.80 L600.16,263.82 L601.68,263.84 L603.20,263.86 L604.72,263.88 L606.24,263.91 L607.76,263.93 L609.28,263.95 L610.79,263.97 L612.31,263.99 L613.83,264.01 L615.35,264.02 L616.87,264.04 L618.39,264.06 L619.91,264.08 L621.43,264.10 L622.95,264.12 L624.47,264.14 L625.98,264.15 L627.50,264.17 L629.02,264.19 L630.54,264.21 L632.06,264.22 L633.58,264.24 L635.10,264.26 L636.62,264.28 L638.14,264.30 L639.66,264.31 L641.17,264.33 L642.69,264.35 L644.21,264.37 L645.73,264.39 L647.25,264.41 L648.77,264.43 L650.29,264.45 L651.81,264.46 L653.33,264.48 L654.84,264.50 L656.36,264.52 L657.88,264.55 L659.40,264.57 L660.92,264.59 L662.44,264.61 L663.96,264.63 L665.48,264.66 L666.99,264.68 L668.51,264.70 L670.03,264.73 L671.55,264.75 L673.07,264.78 L674.59,264.80 L676.11,264.83 L677.62,264.86 L679.14,264.88 L680.66,264.91 L682.18,264.94 L683.70,264.97 L685.22,265.00 L686.73,265.03 L688.25,265.06 L689.77,265.10 L691.29,265.13 L692.81,265.16 L694.32,265.20 L695.84,265.23 L697.36,265.27 L698.88,265.31 L700.39,265.35 L701.91,265.39 L703.43,265.43 L704.95,265.47 L706.47,265.51 L707.98,265.56 L709.50,265.60 L711.60,265.66" fill="none" stroke="#FF00FF" stroke-width="4.2" stroke-linejoin="round" stroke-linecap="butt"/>
<line x1="375.8" x2="375.8" y1="149" y2="402" stroke="#7F7F7F" stroke-width="2" stroke-dasharray="9.1 7.21"/>
</g>
<g clip-path="url(#cb)">
<path d="M122.30,684.80 L122.56,686.34 L122.84,687.87 L123.13,689.39 L123.43,690.90 L123.75,692.40 L124.07,693.90 L124.41,695.38 L124.76,696.86 L125.12,698.33 L125.49,699.79 L125.87,701.25 L126.26,702.70 L126.67,704.14 L127.08,705.57 L127.51,707.00 L127.95,708.42 L128.40,709.84 L128.86,711.25 L129.33,712.65 L129.81,714.05 L130.30,715.45 L130.80,716.83 L131.31,718.22 L131.83,719.60 L132.36,720.97 L132.90,722.35 L133.45,723.71 L134.02,725.08 L134.59,726.44 L135.17,727.80 L135.76,729.15 L136.36,730.50 L136.97,731.85 L137.58,733.20 L138.21,734.55 L138.85,735.89 L139.49,737.23 L140.15,738.58 L140.81,739.92 L141.48,741.25 L142.16,742.59 L142.85,743.93 L143.55,745.27 L144.26,746.61 L144.97,747.95 L145.70,749.28 L146.43,750.62 L147.17,751.96 L147.91,753.30 L148.67,754.65 L149.43,755.99 L150.20,757.33 L150.98,758.67 L151.77,760.01 L152.57,761.34 L153.38,762.68 L154.20,764.00 L155.02,765.33 L155.86,766.64 L156.71,767.95 L157.57,769.25 L158.43,770.55 L159.31,771.83 L160.20,773.11 L161.10,774.38 L162.02,775.63 L162.94,776.87 L163.88,778.10 L164.82,779.32 L165.79,780.52 L166.76,781.71 L167.74,782.88 L168.74,784.03 L169.75,785.17 L170.78,786.29 L171.82,787.39 L172.87,788.48 L173.93,789.54 L175.01,790.58 L176.11,791.60 L177.22,792.59 L178.34,793.57 L179.48,794.52 L180.64,795.44 L181.81,796.34 L182.99,797.22 L184.19,798.06 L185.41,798.88 L186.64,799.67 L187.89,800.43 L189.16,801.16 L190.44,801.86 L191.74,802.53 L193.06,803.17 L194.39,803.78 L195.74,804.36 L197.10,804.91 L198.48,805.44 L199.87,805.94 L201.27,806.41 L202.68,806.85 L204.11,807.27 L205.55,807.67 L206.99,808.04 L208.45,808.39 L209.91,808.71 L211.39,809.02 L212.87,809.30 L214.36,809.56 L215.86,809.80 L217.36,810.02 L218.87,810.22 L220.39,810.41 L221.91,810.57 L223.43,810.72 L224.96,810.86 L226.49,810.97 L228.02,811.07 L229.55,811.16 L231.09,811.23 L232.62,811.29 L234.16,811.34 L235.69,811.38 L237.23,811.40 L238.76,811.41 L240.29,811.42 L241.82,811.41 L243.34,811.39 L244.86,811.37 L246.37,811.34 L247.88,811.30 L249.39,811.26 L250.90,811.21 L252.40,811.17 L253.90,811.12 L255.39,811.08 L256.89,811.03 L258.38,810.99 L259.86,810.96 L261.35,810.93 L262.83,810.90 L264.32,810.89 L265.80,810.89 L267.28,810.90 L268.75,810.92 L270.23,810.95 L271.71,811.00 L273.18,811.07 L274.66,811.16 L276.13,811.26 L277.61,811.39 L279.08,811.54 L280.55,811.71 L282.03,811.90 L283.50,812.11 L284.98,812.34 L286.46,812.58 L287.93,812.84 L289.41,813.12 L290.89,813.40 L292.37,813.69 L293.85,813.99 L295.34,814.30 L296.82,814.61 L298.31,814.92 L299.79,815.23 L301.28,815.54 L302.77,815.84 L304.26,816.13 L305.76,816.42 L307.25,816.68 L308.75,816.94 L310.25,817.17 L311.75,817.38 L313.25,817.56 L314.76,817.71 L316.26,817.84 L317.77,817.93 L319.29,817.99 L320.80,818.00 L322.31,817.98 L323.83,817.91 L325.35,817.79 L326.88,817.62 L328.40,817.40 L330.00,817.27 L331.56,817.06 L333.06,816.76 L334.53,816.38 L335.95,815.93 L337.34,815.41 L338.69,814.82 L340.01,814.16 L341.30,813.45 L342.57,812.68 L343.82,811.85 L345.05,810.98 L346.26,810.05 L347.47,809.09 L348.66,808.08 L349.85,807.05 L351.04,805.97 L352.23,804.87 L353.42,803.75 L354.62,802.60 L355.83,801.44 L357.05,800.28 L358.29,799.13 L359.53,798.02 L360.78,796.95 L362.05,795.94 L363.32,795.02 L364.60,794.20 L365.89,793.49 L367.19,792.92 L368.50,792.48 L369.81,792.17 L371.13,791.99 L372.45,791.93 L373.77,791.99 L375.08,792.15 L376.39,792.42 L377.70,792.78 L378.99,793.23 L380.28,793.77 L381.55,794.38 L382.81,795.07 L384.05,795.83 L385.27,796.64 L386.46,797.51 L387.64,798.43 L388.79,799.39 L389.91,800.39 L391.01,801.42 L392.07,802.48 L393.11,803.57 L394.13,804.68 L395.13,805.82 L396.10,806.98 L397.06,808.17 L398.00,809.37 L398.92,810.59 L399.83,811.83 L400.73,813.08 L401.61,814.34 L402.49,815.61 L403.36,816.89 L404.23,818.18 L405.09,819.47 L405.94,820.77 L406.80,822.07 L407.66,823.36 L408.52,824.66 L409.38,825.95 L410.25,827.23 L411.13,828.51 L412.01,829.77 L412.91,831.03 L413.81,832.27 L414.73,833.50 L415.67,834.71 L416.62,835.90 L417.60,837.08 L418.59,838.23 L419.60,839.35 L420.64,840.45 L421.70,841.52 L422.79,842.57 L423.91,843.58 L425.05,844.56 L426.22,845.52 L427.41,846.44 L428.63,847.34 L429.87,848.20 L431.13,849.05 L432.41,849.86 L433.71,850.65 L435.02,851.41 L436.36,852.15 L437.70,852.87 L439.07,853.56 L440.44,854.23 L441.83,854.88 L443.23,855.50 L444.64,856.11 L446.06,856.69 L447.48,857.26 L448.91,857.80 L450.35,858.33 L451.79,858.84 L453.24,859.33 L454.68,859.81 L456.13,860.27 L457.58,860.72 L459.03,861.15 L460.47,861.56 L461.91,861.97 L463.35,862.36 L464.78,862.73 L466.20,863.10 L471.70,865.80 L473.20,866.01 L474.69,866.21 L476.19,866.40 L477.69,866.59 L479.19,866.78 L480.68,866.96 L482.18,867.15 L483.68,867.32 L485.18,867.50 L486.68,867.67 L488.18,867.83 L489.68,868.00 L491.18,868.16 L492.68,868.31 L494.18,868.47 L495.68,868.61 L497.18,868.76 L498.69,868.90 L500.19,869.04 L501.69,869.18 L503.19,869.32 L504.69,869.45 L506.20,869.57 L507.70,869.70 L509.20,869.82 L510.71,869.94 L512.21,870.06 L513.71,870.17 L515.22,870.28 L516.72,870.39 L518.23,870.49 L519.73,870.59 L521.24,870.69 L522.74,870.79 L524.25,870.88 L525.75,870.97 L527.26,871.06 L528.77,871.15 L530.27,871.23 L531.78,871.31 L533.29,871.39 L534.79,871.47 L536.30,871.54 L537.81,871.62 L539.31,871.69 L540.82,871.75 L542.33,871.82 L543.84,871.88 L545.35,871.94 L546.85,872.00 L548.36,872.06 L549.87,872.11 L551.38,872.16 L552.89,872.22 L554.40,872.26 L555.91,872.31 L557.42,872.36 L558.93,872.40 L560.44,872.44 L561.95,872.48 L563.46,872.52 L564.97,872.56 L566.48,872.59 L567.99,872.62 L569.50,872.66 L571.01,872.69 L572.52,872.72 L574.03,872.74 L575.54,872.77 L577.05,872.79 L578.56,872.82 L580.07,872.84 L581.58,872.86 L583.09,872.88 L584.60,872.90 L586.12,872.91 L587.63,872.93 L589.14,872.94 L590.65,872.96 L592.16,872.97 L593.67,872.98 L595.18,872.99 L596.70,873.00 L598.21,873.01 L599.72,873.02 L601.23,873.02 L602.74,873.03 L604.26,873.04 L605.77,873.04 L607.28,873.05 L608.79,873.05 L610.30,873.05 L611.82,873.05 L613.33,873.06 L614.84,873.06 L616.35,873.06 L617.87,873.06 L619.38,873.06 L620.89,873.06 L622.40,873.06 L623.92,873.06 L625.43,873.06 L626.94,873.05 L628.45,873.05 L629.96,873.05 L631.48,873.05 L632.99,873.05 L634.50,873.05 L636.01,873.04 L637.53,873.04 L639.04,873.04 L640.55,873.04 L642.06,873.04 L643.57,873.04 L645.09,873.03 L646.60,873.03 L648.11,873.03 L649.62,873.03 L651.13,873.03 L652.64,873.03 L654.16,873.03 L655.67,873.03 L657.18,873.04 L658.69,873.04 L660.20,873.04 L661.71,873.05 L663.22,873.05 L664.74,873.05 L666.25,873.06 L667.76,873.07 L669.27,873.07 L670.78,873.08 L672.29,873.09 L673.80,873.10 L675.31,873.11 L676.82,873.12 L678.33,873.13 L679.84,873.15 L681.35,873.16 L682.86,873.18 L684.37,873.19 L685.88,873.21 L687.39,873.23 L688.90,873.25 L690.41,873.27 L691.92,873.29 L693.43,873.32 L694.94,873.34 L696.44,873.37 L697.95,873.40 L699.46,873.43 L700.97,873.46 L702.48,873.49 L703.98,873.53 L705.49,873.56 L707.00,873.60 L709.30,873.66" fill="none" stroke="#3A6598" stroke-width="4.6" stroke-linejoin="round" stroke-linecap="butt"/>
<path d="M122.10,498.50 L122.23,500.04 L122.37,501.58 L122.51,503.12 L122.65,504.65 L122.79,506.18 L122.94,507.71 L123.09,509.24 L123.24,510.77 L123.40,512.29 L123.56,513.81 L123.72,515.33 L123.89,516.85 L124.06,518.37 L124.23,519.88 L124.40,521.39 L124.58,522.90 L124.76,524.41 L124.95,525.91 L125.13,527.42 L125.32,528.92 L125.52,530.42 L125.71,531.92 L125.91,533.41 L126.11,534.91 L126.32,536.40 L126.53,537.90 L126.74,539.39 L126.95,540.87 L127.17,542.36 L127.39,543.85 L127.61,545.33 L127.84,546.82 L128.07,548.30 L128.30,549.78 L128.53,551.26 L128.77,552.73 L129.01,554.21 L129.26,555.69 L129.50,557.16 L129.75,558.63 L130.01,560.11 L130.26,561.58 L130.52,563.05 L130.78,564.51 L131.05,565.98 L131.32,567.45 L131.59,568.92 L131.86,570.38 L132.14,571.85 L132.42,573.31 L132.70,574.77 L132.99,576.23 L133.28,577.69 L133.57,579.16 L133.87,580.61 L134.17,582.07 L134.47,583.53 L134.77,584.99 L135.08,586.45 L135.39,587.91 L135.70,589.36 L136.02,590.82 L136.34,592.28 L136.66,593.73 L136.99,595.19 L137.31,596.64 L137.65,598.10 L137.98,599.55 L138.32,601.00 L138.66,602.46 L139.00,603.91 L139.35,605.37 L139.70,606.82 L140.05,608.28 L140.40,609.73 L140.76,611.18 L141.12,612.64 L141.49,614.09 L141.85,615.55 L142.23,617.00 L142.60,618.45 L142.97,619.91 L143.35,621.37 L143.74,622.82 L144.12,624.28 L144.51,625.73 L144.90,627.19 L145.30,628.65 L145.69,630.10 L146.09,631.56 L146.50,633.02 L146.90,634.48 L147.31,635.94 L147.72,637.40 L148.14,638.86 L148.56,640.32 L148.98,641.79 L149.40,643.25 L149.83,644.71 L150.26,646.18 L150.69,647.64 L151.13,649.11 L151.57,650.58 L152.01,652.05 L152.45,653.52 L152.90,654.99 L153.35,656.46 L153.81,657.93 L154.27,659.40 L154.73,660.88 L155.20,662.35 L155.67,663.82 L156.14,665.29 L156.63,666.76 L157.11,668.22 L157.61,669.69 L158.10,671.15 L158.61,672.61 L159.12,674.07 L159.64,675.52 L160.17,676.97 L160.70,678.42 L161.24,679.86 L161.79,681.30 L162.35,682.74 L162.91,684.17 L163.49,685.59 L164.07,687.01 L164.67,688.42 L165.27,689.83 L165.88,691.23 L166.50,692.62 L167.14,694.01 L167.78,695.39 L168.44,696.76 L169.10,698.12 L169.78,699.48 L170.47,700.83 L171.18,702.16 L171.89,703.49 L172.62,704.81 L173.36,706.12 L174.11,707.42 L174.88,708.71 L175.66,709.99 L176.46,711.26 L177.27,712.52 L178.09,713.77 L178.93,715.00 L179.79,716.22 L180.66,717.43 L181.54,718.63 L182.45,719.81 L183.37,720.99 L184.30,722.14 L185.25,723.29 L186.22,724.42 L187.21,725.53 L188.22,726.63 L189.24,727.72 L190.28,728.79 L191.34,729.84 L192.42,730.88 L193.52,731.90 L194.63,732.90 L195.76,733.88 L196.91,734.84 L198.08,735.77 L199.26,736.68 L200.47,737.56 L201.68,738.41 L202.92,739.24 L204.17,740.03 L205.44,740.79 L206.72,741.52 L208.02,742.22 L209.33,742.88 L210.66,743.50 L212.01,744.08 L213.37,744.63 L214.74,745.14 L216.13,745.61 L217.52,746.05 L218.94,746.46 L220.36,746.84 L221.79,747.19 L223.23,747.51 L224.69,747.81 L226.15,748.09 L227.62,748.34 L229.09,748.58 L230.58,748.79 L232.07,748.99 L233.57,749.18 L235.07,749.35 L236.57,749.50 L238.08,749.65 L239.60,749.79 L241.11,749.92 L242.63,750.05 L244.15,750.17 L245.67,750.29 L247.19,750.41 L248.72,750.54 L250.23,750.66 L251.75,750.79 L253.27,750.92 L254.78,751.06 L256.29,751.21 L257.80,751.36 L259.31,751.51 L260.82,751.67 L262.32,751.83 L263.82,752.00 L265.33,752.18 L266.83,752.35 L268.32,752.54 L269.82,752.72 L271.31,752.91 L272.81,753.10 L274.30,753.30 L275.79,753.50 L277.28,753.71 L278.77,753.91 L280.25,754.12 L281.74,754.34 L283.22,754.55 L284.71,754.77 L286.19,755.00 L287.67,755.22 L289.15,755.45 L290.63,755.68 L292.11,755.91 L293.59,756.14 L295.07,756.37 L296.54,756.61 L298.02,756.85 L299.49,757.09 L300.97,757.32 L302.45,757.55 L303.92,757.77 L305.40,757.99 L306.88,758.19 L308.35,758.39 L309.83,758.57 L311.32,758.74 L312.80,758.88 L314.28,759.02 L315.77,759.13 L317.26,759.21 L318.75,759.28 L320.24,759.31 L321.74,759.32 L323.24,759.30 L324.75,759.25 L326.25,759.17 L327.76,759.05 L329.28,758.90 L330.80,758.70 L332.07,758.18 L333.31,757.57 L334.55,756.88 L335.77,756.13 L336.98,755.30 L338.18,754.42 L339.37,753.49 L340.55,752.51 L341.73,751.49 L342.91,750.44 L344.09,749.36 L345.27,748.27 L346.45,747.16 L347.63,746.04 L348.82,744.92 L350.02,743.81 L351.22,742.72 L352.44,741.64 L353.67,740.59 L354.91,739.57 L356.17,738.60 L357.45,737.66 L358.75,736.79 L360.07,735.96 L361.40,735.21 L362.74,734.52 L364.09,733.91 L365.45,733.38 L366.81,732.94 L368.18,732.60 L369.54,732.35 L370.89,732.21 L372.24,732.18 L373.58,732.26 L374.90,732.45 L376.20,732.75 L377.48,733.15 L378.73,733.64 L379.96,734.23 L381.14,734.90 L382.29,735.66 L383.40,736.49 L384.46,737.40 L385.48,738.38 L386.47,739.42 L387.42,740.52 L388.33,741.67 L389.22,742.87 L390.08,744.11 L390.92,745.40 L391.74,746.71 L392.54,748.06 L393.33,749.42 L394.11,750.81 L394.88,752.20 L395.64,753.61 L396.40,755.02 L397.17,756.42 L397.93,757.83 L398.69,759.23 L399.46,760.63 L400.23,762.03 L401.00,763.42 L401.77,764.81 L402.55,766.20 L403.33,767.58 L404.11,768.95 L404.90,770.32 L405.69,771.68 L406.49,773.04 L407.29,774.39 L408.11,775.72 L408.92,777.05 L409.74,778.37 L410.58,779.68 L411.41,780.98 L412.26,782.27 L413.12,783.55 L413.98,784.82 L414.85,786.07 L415.74,787.31 L416.63,788.54 L417.53,789.75 L418.45,790.95 L419.37,792.13 L420.31,793.29 L421.26,794.44 L422.23,795.58 L423.20,796.69 L424.19,797.79 L425.19,798.87 L426.21,799.93 L427.25,800.97 L428.29,801.99 L429.36,802.99 L430.43,803.97 L431.53,804.93 L432.64,805.87 L433.77,806.78 L434.92,807.67 L436.08,808.54 L437.27,809.38 L438.47,810.19 L439.69,810.99 L440.93,811.75 L442.19,812.49 L443.47,813.20 L444.78,813.89 L446.10,814.55 L447.45,815.17 L448.81,815.77 L450.20,816.34 L451.62,816.88 L453.05,817.39 L454.51,817.87 L456.00,818.31 L457.51,818.73 L459.04,819.11 L460.60,819.46 L462.19,819.77 L463.80,820.05 L465.44,820.29 L467.10,820.50 L472.60,823.80 L474.10,824.00 L475.60,824.19 L477.10,824.38 L478.60,824.57 L480.10,824.75 L481.61,824.93 L483.11,825.11 L484.61,825.28 L486.11,825.44 L487.62,825.61 L489.12,825.77 L490.62,825.92 L492.13,826.08 L493.63,826.23 L495.14,826.37 L496.64,826.52 L498.15,826.66 L499.65,826.79 L501.16,826.93 L502.66,827.06 L504.17,827.18 L505.68,827.31 L507.18,827.43 L508.69,827.55 L510.20,827.66 L511.70,827.77 L513.21,827.88 L514.72,827.99 L516.23,828.09 L517.74,828.19 L519.24,828.29 L520.75,828.38 L522.26,828.48 L523.77,828.56 L525.28,828.65 L526.79,828.74 L528.30,828.82 L529.81,828.90 L531.32,828.97 L532.83,829.05 L534.34,829.12 L535.85,829.19 L537.36,829.25 L538.88,829.32 L540.39,829.38 L541.90,829.44 L543.41,829.50 L544.92,829.56 L546.43,829.61 L547.95,829.66 L549.46,829.71 L550.97,829.76 L552.49,829.80 L554.00,829.85 L555.51,829.89 L557.02,829.93 L558.54,829.97 L560.05,830.00 L561.57,830.04 L563.08,830.07 L564.59,830.10 L566.11,830.13 L567.62,830.16 L569.14,830.18 L570.65,830.21 L572.16,830.23 L573.68,830.25 L575.19,830.28 L576.71,830.29 L578.22,830.31 L579.74,830.33 L581.25,830.34 L582.77,830.36 L584.28,830.37 L585.80,830.38 L587.32,830.39 L588.83,830.40 L590.35,830.41 L591.86,830.42 L593.38,830.43 L594.89,830.43 L596.41,830.44 L597.93,830.44 L599.44,830.44 L600.96,830.44 L602.47,830.45 L603.99,830.45 L605.51,830.45 L607.02,830.45 L608.54,830.45 L610.06,830.44 L611.57,830.44 L613.09,830.44 L614.60,830.44 L616.12,830.43 L617.64,830.43 L619.15,830.43 L620.67,830.42 L622.19,830.42 L623.70,830.41 L625.22,830.41 L626.73,830.40 L628.25,830.40 L629.77,830.39 L631.28,830.38 L632.80,830.38 L634.32,830.37 L635.83,830.37 L637.35,830.36 L638.87,830.36 L640.38,830.35 L641.90,830.35 L643.41,830.35 L644.93,830.34 L646.45,830.34 L647.96,830.33 L649.48,830.33 L650.99,830.33 L652.51,830.33 L654.02,830.33 L655.54,830.32 L657.05,830.32 L658.57,830.33 L660.09,830.33 L661.60,830.33 L663.12,830.33 L664.63,830.33 L666.15,830.34 L667.66,830.34 L669.18,830.35 L670.69,830.36 L672.20,830.36 L673.72,830.37 L675.23,830.38 L676.75,830.39 L678.26,830.41 L679.78,830.42 L681.29,830.43 L682.80,830.45 L684.32,830.47 L685.83,830.49 L687.34,830.51 L688.86,830.53 L690.37,830.55 L691.88,830.57 L693.39,830.60 L694.91,830.63 L696.42,830.65 L697.93,830.68 L699.44,830.72 L700.95,830.75 L702.47,830.79 L703.98,830.82 L705.49,830.86 L707.00,830.90 L709.30,830.96" fill="none" stroke="#4A7CBA" stroke-width="4.6" stroke-linejoin="round" stroke-linecap="butt"/>
<path d="M122.10,622.30 L122.48,623.74 L122.86,625.18 L123.24,626.62 L123.62,628.06 L124.00,629.50 L124.39,630.95 L124.78,632.40 L125.17,633.84 L125.57,635.29 L125.97,636.74 L126.37,638.19 L126.78,639.63 L127.20,641.08 L127.62,642.53 L128.05,643.97 L128.48,645.42 L128.92,646.86 L129.37,648.30 L129.83,649.74 L130.30,651.17 L130.77,652.61 L131.26,654.04 L131.75,655.46 L132.25,656.88 L132.77,658.30 L133.30,659.72 L133.83,661.13 L134.38,662.54 L134.94,663.94 L135.52,665.33 L136.11,666.72 L136.71,668.11 L137.32,669.49 L137.96,670.86 L138.60,672.23 L139.26,673.59 L139.94,674.94 L140.63,676.28 L141.34,677.62 L142.07,678.95 L142.81,680.27 L143.57,681.58 L144.35,682.89 L145.15,684.19 L145.97,685.47 L146.81,686.75 L147.67,688.02 L148.54,689.27 L149.44,690.52 L150.37,691.76 L151.31,692.98 L152.27,694.19 L153.25,695.39 L154.25,696.58 L155.28,697.75 L156.32,698.90 L157.38,700.03 L158.45,701.15 L159.55,702.25 L160.66,703.32 L161.79,704.38 L162.94,705.41 L164.10,706.42 L165.28,707.41 L166.47,708.37 L167.68,709.30 L168.90,710.21 L170.14,711.09 L171.39,711.94 L172.65,712.76 L173.93,713.55 L175.22,714.31 L176.52,715.03 L177.83,715.72 L179.16,716.38 L180.49,716.99 L181.84,717.58 L183.19,718.12 L184.56,718.63 L185.93,719.09 L187.32,719.52 L188.71,719.90 L190.11,720.24 L191.52,720.54 L192.94,720.79 L194.36,721.00 L195.79,721.16 L197.23,721.27 L198.67,721.33 L200.11,721.35 L201.56,721.31 L203.02,721.22 L204.48,721.09 L205.94,720.91 L207.41,720.69 L208.88,720.43 L210.34,720.12 L211.81,719.78 L213.28,719.41 L214.75,718.99 L216.22,718.55 L217.69,718.08 L219.15,717.58 L220.61,717.05 L222.07,716.50 L223.52,715.93 L224.97,715.34 L226.42,714.74 L227.87,714.13 L229.31,713.52 L230.75,712.90 L232.19,712.29 L233.62,711.68 L235.06,711.08 L236.49,710.49 L237.92,709.92 L239.34,709.37 L240.77,708.84 L242.19,708.34 L243.61,707.87 L245.03,707.43 L246.45,707.02 L247.86,706.65 L249.28,706.32 L250.69,706.02 L252.11,705.76 L253.52,705.53 L254.93,705.35 L256.34,705.20 L257.75,705.10 L259.16,705.03 L260.56,705.01 L261.97,705.02 L263.38,705.08 L264.79,705.19 L266.20,705.33 L267.60,705.53 L269.01,705.77 L270.42,706.05 L271.83,706.38 L273.24,706.76 L274.65,707.17 L276.07,707.62 L277.48,708.11 L278.89,708.63 L280.31,709.17 L281.72,709.74 L283.14,710.32 L284.56,710.93 L285.98,711.54 L287.40,712.17 L288.82,712.80 L290.24,713.43 L291.67,714.06 L293.09,714.69 L294.52,715.31 L295.95,715.92 L297.38,716.51 L298.81,717.09 L300.24,717.64 L301.68,718.17 L303.11,718.67 L304.55,719.14 L305.99,719.57 L307.43,719.96 L308.88,720.31 L310.32,720.62 L311.77,720.87 L313.22,721.07 L314.67,721.22 L316.13,721.30 L317.58,721.33 L319.04,721.28 L320.50,721.17 L321.97,720.98 L323.43,720.71 L324.90,720.36 L326.37,719.93 L327.85,719.42 L329.32,718.81 L330.80,718.10 L331.75,716.81 L332.68,715.51 L333.58,714.22 L334.47,712.92 L335.34,711.62 L336.18,710.32 L337.01,709.02 L337.82,707.72 L338.61,706.42 L339.39,705.11 L340.14,703.81 L340.88,702.50 L341.61,701.18 L342.32,699.87 L343.01,698.55 L343.68,697.23 L344.35,695.91 L344.99,694.59 L345.63,693.26 L346.25,691.93 L346.86,690.59 L347.45,689.25 L348.03,687.91 L348.60,686.57 L349.16,685.22 L349.71,683.86 L350.25,682.51 L350.78,681.14 L351.30,679.78 L351.81,678.40 L352.32,677.03 L352.81,675.65 L353.30,674.26 L353.77,672.87 L354.25,671.47 L354.71,670.07 L355.17,668.66 L355.63,667.25 L356.08,665.83 L356.52,664.41 L356.96,662.98 L357.40,661.54 L357.83,660.10 L358.26,658.64 L358.69,657.19 L359.11,655.72 L359.54,654.25 L359.96,652.78 L360.38,651.29 L360.81,649.80 L361.23,648.30 L361.65,646.79 L362.07,645.27 L362.50,643.75 L362.93,642.22 L363.35,640.68 L363.79,639.13 L364.22,637.58 L364.66,636.01 L365.10,634.44 L365.55,632.86 L366.01,631.27 L366.47,629.69 L366.94,628.11 L367.42,626.54 L367.92,624.99 L368.43,623.46 L368.96,621.96 L369.50,620.48 L370.07,619.05 L370.65,617.65 L371.27,616.29 L371.90,614.99 L372.56,613.74 L373.25,612.54 L373.97,611.42 L374.72,610.36 L375.51,609.37 L376.33,608.47 L377.17,607.68 L378.03,607.06 L378.88,606.67 L379.71,606.57 L380.52,606.75 L381.31,607.21 L382.06,607.90 L382.80,608.80 L383.51,609.89 L384.19,611.13 L384.85,612.50 L385.48,613.96 L386.10,615.50 L386.68,617.08 L387.24,618.68 L387.78,620.26 L388.30,621.83 L388.79,623.37 L389.27,624.90 L389.72,626.41 L390.16,627.91 L390.57,629.41 L390.98,630.89 L391.37,632.36 L391.74,633.83 L392.11,635.30 L392.46,636.76 L392.81,638.23 L393.14,639.70 L393.47,641.17 L393.79,642.64 L394.10,644.12 L394.41,645.60 L394.71,647.08 L395.00,648.56 L395.29,650.04 L395.57,651.52 L395.84,653.01 L396.11,654.50 L396.38,655.99 L396.64,657.48 L396.90,658.97 L397.16,660.46 L397.41,661.95 L397.66,663.45 L397.91,664.94 L398.16,666.44 L398.40,667.93 L398.65,669.43 L398.89,670.93 L399.13,672.42 L399.37,673.92 L399.62,675.42 L399.86,676.91 L400.11,678.41 L400.35,679.90 L400.60,681.40 L400.85,682.89 L401.10,684.39 L401.36,685.88 L401.61,687.37 L401.88,688.86 L402.14,690.36 L402.41,691.84 L402.69,693.33 L402.97,694.82 L403.25,696.30 L403.54,697.79 L403.84,699.27 L404.14,700.75 L404.45,702.23 L404.77,703.70 L405.09,705.18 L405.43,706.65 L405.77,708.12 L406.12,709.58 L406.48,711.05 L406.85,712.51 L407.22,713.97 L407.61,715.42 L408.01,716.88 L408.42,718.33 L408.84,719.77 L409.27,721.22 L409.72,722.66 L410.17,724.10 L410.64,725.53 L411.12,726.96 L411.62,728.38 L412.13,729.81 L412.65,731.22 L413.19,732.64 L413.74,734.05 L414.31,735.45 L414.89,736.85 L415.49,738.25 L416.11,739.64 L416.74,741.03 L417.39,742.40 L418.06,743.77 L418.74,745.13 L419.44,746.48 L420.16,747.82 L420.90,749.15 L421.65,750.46 L422.43,751.76 L423.22,753.04 L424.03,754.31 L424.87,755.57 L425.72,756.80 L426.59,758.02 L427.49,759.21 L428.40,760.39 L429.34,761.54 L430.30,762.67 L431.28,763.78 L432.28,764.86 L433.31,765.92 L434.35,766.95 L435.43,767.95 L436.52,768.93 L437.64,769.88 L438.78,770.79 L439.94,771.68 L441.13,772.53 L442.35,773.35 L443.59,774.14 L444.86,774.89 L446.15,775.60 L447.47,776.28 L448.81,776.92 L450.18,777.52 L451.58,778.08 L453.00,778.60 L454.46,779.08 L455.94,779.52 L457.44,779.91 L458.98,780.26 L460.55,780.56 L462.14,780.82 L463.76,781.03 L465.42,781.19 L467.10,781.30 L472.60,784.20 L474.10,784.34 L475.61,784.46 L477.11,784.59 L478.62,784.71 L480.12,784.83 L481.63,784.95 L483.14,785.06 L484.64,785.17 L486.15,785.28 L487.65,785.38 L489.16,785.49 L490.67,785.59 L492.18,785.68 L493.68,785.78 L495.19,785.87 L496.70,785.96 L498.21,786.05 L499.71,786.13 L501.22,786.22 L502.73,786.30 L504.24,786.38 L505.75,786.45 L507.26,786.52 L508.76,786.59 L510.27,786.66 L511.78,786.73 L513.29,786.79 L514.80,786.86 L516.31,786.92 L517.82,786.97 L519.33,787.03 L520.84,787.08 L522.35,787.13 L523.86,787.18 L525.37,787.23 L526.88,787.28 L528.39,787.32 L529.91,787.36 L531.42,787.40 L532.93,787.44 L534.44,787.48 L535.95,787.51 L537.46,787.55 L538.97,787.58 L540.49,787.61 L542.00,787.64 L543.51,787.66 L545.02,787.69 L546.54,787.71 L548.05,787.74 L549.56,787.76 L551.07,787.78 L552.59,787.79 L554.10,787.81 L555.61,787.82 L557.12,787.84 L558.64,787.85 L560.15,787.86 L561.66,787.87 L563.18,787.88 L564.69,787.89 L566.20,787.89 L567.72,787.90 L569.23,787.90 L570.75,787.91 L572.26,787.91 L573.77,787.91 L575.29,787.91 L576.80,787.91 L578.32,787.91 L579.83,787.90 L581.34,787.90 L582.86,787.90 L584.37,787.89 L585.89,787.89 L587.40,787.88 L588.92,787.87 L590.43,787.86 L591.95,787.86 L593.46,787.85 L594.97,787.84 L596.49,787.83 L598.00,787.82 L599.52,787.80 L601.03,787.79 L602.55,787.78 L604.06,787.77 L605.58,787.75 L607.09,787.74 L608.61,787.73 L610.12,787.71 L611.64,787.70 L613.15,787.69 L614.67,787.67 L616.18,787.66 L617.70,787.64 L619.21,787.63 L620.73,787.61 L622.24,787.60 L623.76,787.58 L625.27,787.57 L626.79,787.55 L628.30,787.54 L629.82,787.52 L631.33,787.51 L632.85,787.49 L634.36,787.48 L635.88,787.46 L637.39,787.45 L638.90,787.44 L640.42,787.42 L641.93,787.41 L643.45,787.40 L644.96,787.39 L646.48,787.37 L647.99,787.36 L649.51,787.35 L651.02,787.34 L652.54,787.33 L654.05,787.32 L655.56,787.31 L657.08,787.31 L658.59,787.30 L660.11,787.29 L661.62,787.29 L663.13,787.28 L664.65,787.28 L666.16,787.27 L667.68,787.27 L669.19,787.27 L670.70,787.27 L672.22,787.27 L673.73,787.27 L675.24,787.27 L676.76,787.28 L678.27,787.28 L679.78,787.29 L681.30,787.29 L682.81,787.30 L684.32,787.31 L685.83,787.32 L687.35,787.33 L688.86,787.34 L690.37,787.36 L691.88,787.37 L693.40,787.39 L694.91,787.41 L696.42,787.42 L697.93,787.45 L699.44,787.47 L700.95,787.49 L702.47,787.52 L703.98,787.54 L705.49,787.57 L707.00,787.60 L709.30,787.64" fill="none" stroke="#A3B5D4" stroke-width="4.6" stroke-linejoin="round" stroke-linecap="butt"/>
<line x1="380.6" x2="380.6" y1="605.1" y2="876.3" stroke="#7F7F7F" stroke-width="2" stroke-dasharray="9.2 7.16"/>
</g>
<text x="-1.0" y="22.5" font-size="42.0" fill="#000" font-weight="bold">a</text>
<text x="-2.0" y="490.0" font-size="43.0" fill="#000" font-weight="bold">b</text>
<text x="101.3" y="36.4" font-size="34.4" fill="#000" stroke="#000" stroke-width="0.3" text-anchor="end">0.9</text>
<text x="101.3" y="162.5" font-size="34.4" fill="#000" stroke="#000" stroke-width="0.3" text-anchor="end">0.6</text>
<text x="101.3" y="288.6" font-size="34.4" fill="#000" stroke="#000" stroke-width="0.3" text-anchor="end">0.3</text>
<text x="101.3" y="414.7" font-size="34.4" fill="#000" stroke="#000" stroke-width="0.3" text-anchor="end">0.0</text>
<text x="97.1" y="503.4" font-size="34.4" fill="#000" stroke="#000" stroke-width="0.3" text-anchor="end">1.2</text>
<text x="97.1" y="633.4" font-size="34.4" fill="#000" stroke="#000" stroke-width="0.3" text-anchor="end">0.8</text>
<text x="97.1" y="763.4" font-size="34.4" fill="#000" stroke="#000" stroke-width="0.3" text-anchor="end">0.4</text>
<text x="97.1" y="893.4" font-size="34.4" fill="#000" stroke="#000" stroke-width="0.3" text-anchor="end">0.0</text>
<text transform="translate(29,213.8) rotate(-90)" font-size="33.5" text-anchor="middle" stroke="#000" stroke-width="0.3">Absorbance</text>
<text transform="translate(29,693.7) rotate(-90)" font-size="33.5" text-anchor="middle" stroke="#000" stroke-width="0.3">Absorbance</text>
<text x="121.6" y="936.6" font-size="35.0" fill="#000" stroke="#000" stroke-width="0.3" text-anchor="middle">290</text>
<text x="316.0" y="936.6" font-size="35.0" fill="#000" stroke="#000" stroke-width="0.3" text-anchor="middle">340</text>
<text x="512.3" y="936.6" font-size="35.0" fill="#000" stroke="#000" stroke-width="0.3" text-anchor="middle">390</text>
<text x="707.2" y="936.6" font-size="35.0" fill="#000" stroke="#000" stroke-width="0.3" text-anchor="middle">440</text>
<text x="408.5" y="982.6" font-size="34.2" fill="#000" stroke="#000" stroke-width="0.3" text-anchor="middle" textLength="253" lengthAdjust="spacing">Wavelength (nm)</text>
<text x="189.0" y="66.4" font-size="29.5" fill="#000" stroke="#000" stroke-width="0.3" >2CdCl<tspan font-size="17.5" dy="8">2</tspan><tspan dy="-8">-8MPA-20KOH-1TU</tspan></text>
<text x="190.0" y="101.2" font-size="29.5" fill="#000" stroke="#000" stroke-width="0.3" >BTA-H<tspan font-size="17.5" dy="8">2</tspan><tspan dy="-8">O, 3.0 mL</tspan></text>
<text x="413.0" y="160.1" font-size="29.5" fill="#001A5E" stroke="#001A5E" stroke-width="0.3" >MSC-360</text>
<text x="413.0" y="196.5" font-size="29.5" fill="#7F7F7F" stroke="#7F7F7F" stroke-width="0.3" >354 nm</text>
<text x="491.8" y="249.8" font-size="30.2" fill="#7F7F7F" stroke="#7F7F7F" stroke-width="0.3" >2.0 mL BTA</text>
<text x="491.8" y="292.9" font-size="30.2" fill="#7F7F7F" stroke="#7F7F7F" stroke-width="0.3" >1.5 mL BTA</text>
<text x="491.8" y="336.7" font-size="30.2" fill="#7F7F7F" stroke="#7F7F7F" stroke-width="0.3" >1.0 mL BTA</text>
<text x="491.8" y="379.8" font-size="30.2" fill="#7F7F7F" stroke="#7F7F7F" stroke-width="0.3" >0.5 mL BTA</text>
<text x="184.5" y="547.4" font-size="29.5" fill="#000" stroke="#000" stroke-width="0.3" >2CdCl<tspan font-size="17.5" dy="8">2</tspan><tspan dy="-8">-8MPA-20KOH-1TU</tspan></text>
<text x="185.0" y="582.0" font-size="29.5" fill="#000" stroke="#000" stroke-width="0.3" >1amine-1H<tspan font-size="17.5" dy="8">2</tspan><tspan dy="-8">O</tspan></text>
<text x="407.0" y="631.6" font-size="29.5" fill="#001A5E" stroke="#001A5E" stroke-width="0.3" >MSC-360</text>
<text x="407.0" y="668.7" font-size="29.5" fill="#7F7F7F" stroke="#7F7F7F" stroke-width="0.3" >356 nm</text>
<text x="605.2" y="782.4" font-size="30.2" fill="#7F7F7F" stroke="#7F7F7F" stroke-width="0.3" >ETA</text>
<text x="605.2" y="822.6" font-size="30.2" fill="#7F7F7F" stroke="#7F7F7F" stroke-width="0.3" >PrA</text>
<text x="605.2" y="864.2" font-size="30.2" fill="#7F7F7F" stroke="#7F7F7F" stroke-width="0.3" >BTA</text>
</svg></body></html>
